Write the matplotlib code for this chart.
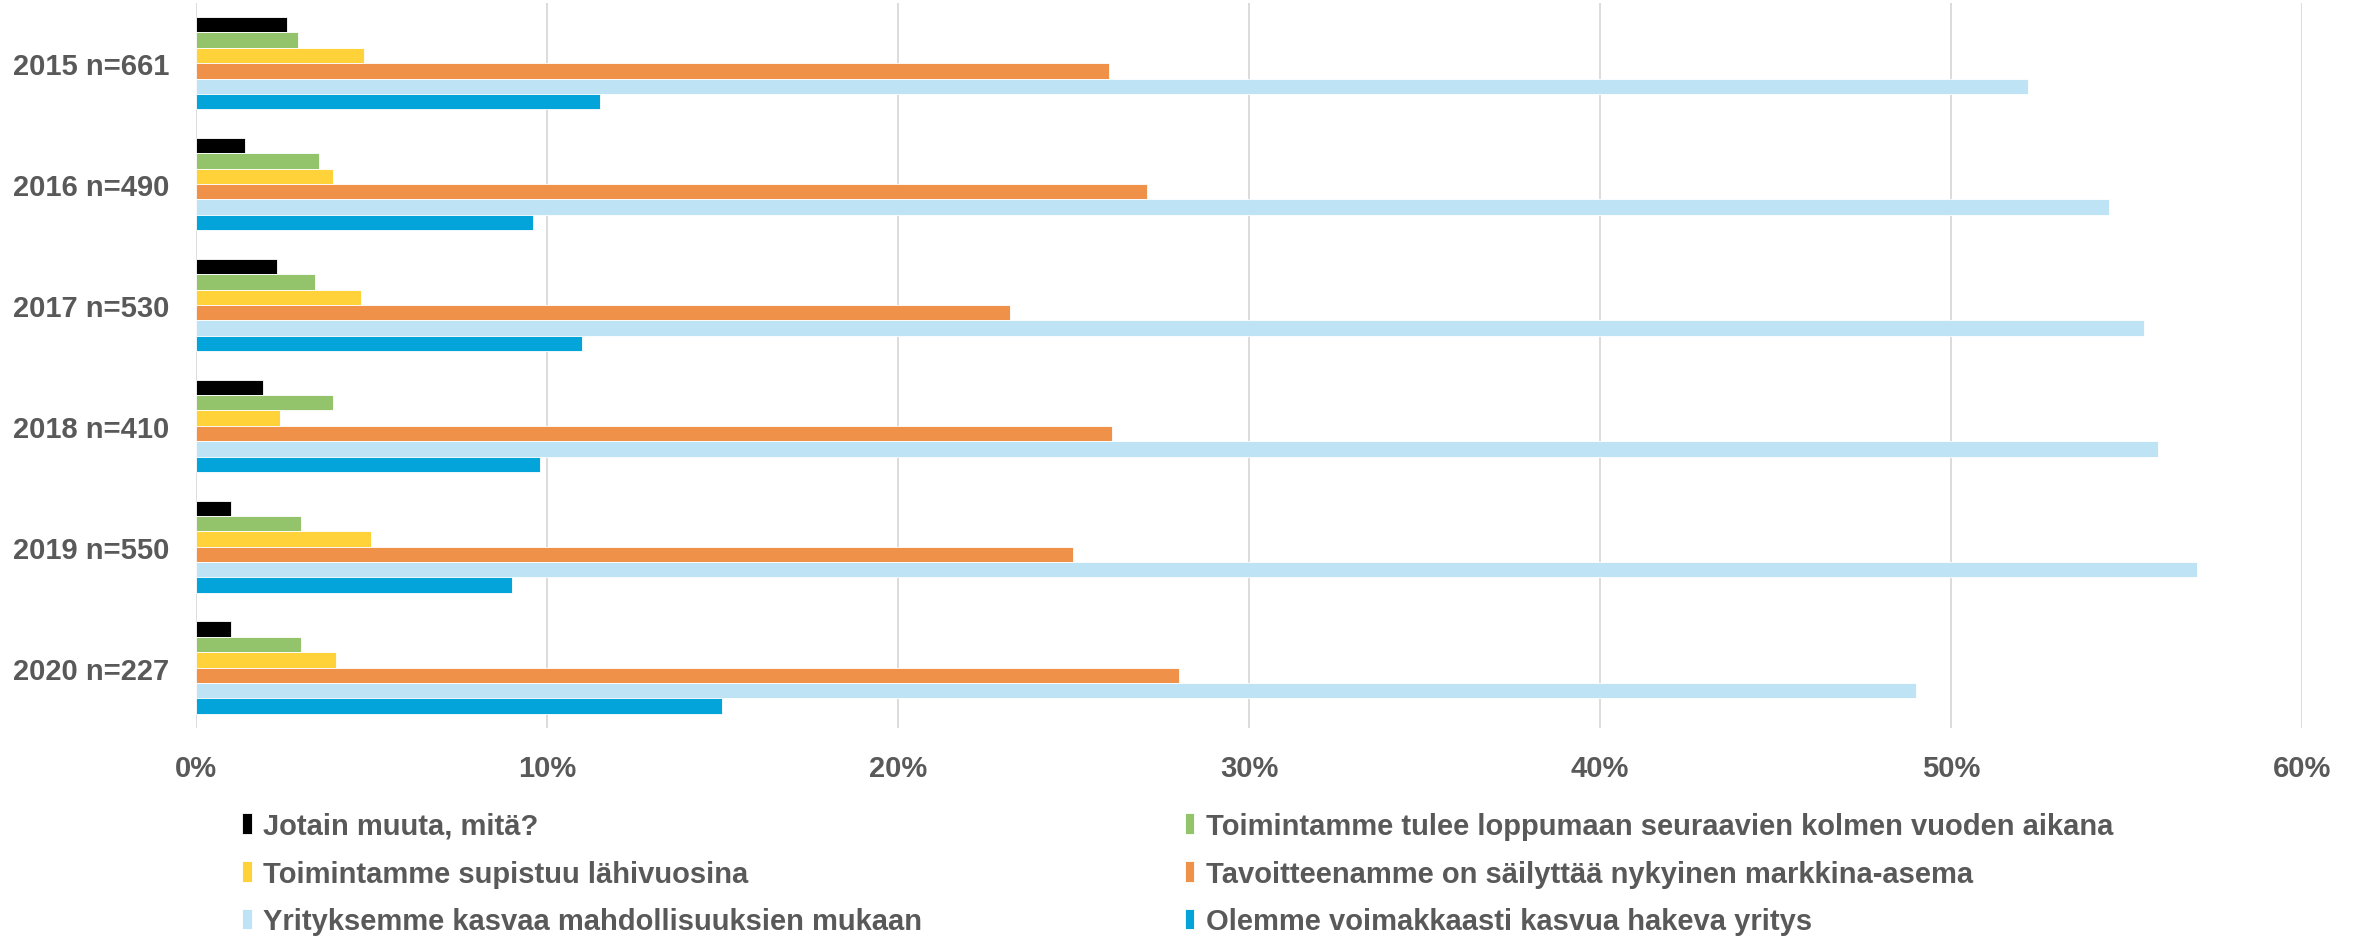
import numpy as np
import matplotlib
matplotlib.use("Agg")
import matplotlib.pyplot as plt

categories = ["2015 n=661", "2016 n=490", "2017 n=530", "2018 n=410", "2019 n=550", "2020 n=227"]

# series, top-to-bottom order within each group (values in %)
jotain = [2.6, 1.4, 2.3, 1.9, 1.0, 1.0]
loppuu = [2.9, 3.5, 3.4, 3.9, 3.0, 3.0]
supistuu = [4.8, 3.9, 4.7, 2.4, 5.0, 4.0]
sailyttaa = [26.0, 27.1, 23.2, 26.1, 25.0, 28.0]
kasvaa = [52.2, 54.5, 55.5, 55.9, 57.0, 49.0]
voimakkaasti = [11.5, 9.6, 11.0, 9.8, 9.0, 15.0]

names = ["Jotain muuta, mitä?",
         "Toimintamme tulee loppumaan seuraavien kolmen vuoden aikana",
         "Toimintamme supistuu lähivuosina",
         "Tavoitteenamme on säilyttää nykyinen markkina-asema",
         "Yrityksemme kasvaa mahdollisuuksien mukaan",
         "Olemme voimakkaasti kasvua hakeva yritys"]
colors = ["#000000", "#93C36A", "#FFD23A", "#F0914A", "#BDE3F5", "#02A4D9"]
series = [jotain, loppuu, supistuu, sailyttaa, kasvaa, voimakkaasti]

GRAY = "#595959"
plt.rcParams["font.family"] = ["Liberation Sans", "DejaVu Sans"]
plt.rcParams["font.weight"] = "bold"

fig = plt.figure(figsize=(23.61, 9.37), dpi=100)
ax = fig.add_axes([0.083, 0.222, 0.892, 0.774])

y = np.arange(len(categories))
h = 0.127
handles = []
for i, (vals, c, n) in enumerate(zip(series, colors, names)):
    off = (i - 2.5) * h
    b = ax.barh(y + off, vals, height=h, color=c, edgecolor="white", linewidth=0.6,
                label=n, zorder=3)
    handles.append(b)

ax.set_ylim(len(categories) - 0.5, -0.5)
ax.set_xlim(0, 60)
ax.set_xticks(np.arange(0, 61, 10))
ax.set_xticklabels([f"{v}%" for v in range(0, 61, 10)])
ax.set_yticks(y)
ax.set_yticklabels(categories)
ax.tick_params(axis="both", length=0, labelsize=21, labelcolor=GRAY)
ax.tick_params(axis="x", pad=19)
ax.tick_params(axis="y", pad=19)
ax.grid(axis="x", color="#D9D9D9", linewidth=1.3, zorder=0)
for s in ax.spines.values():
    s.set_visible(False)

# legend read row-wise: reorder for column filling
order = [0, 2, 4, 1, 3, 5]
leg = fig.legend([handles[k] for k in order], [names[k] for k in order],
                 ncol=2, loc="upper left", bbox_to_anchor=(0.1026, 0.1326),
                 frameon=False, fontsize=21, labelcolor=GRAY,
                 handlelength=0.32, handleheight=0.7, handletextpad=0.4,
                 labelspacing=0.68, columnspacing=9.0, borderpad=0,
                 borderaxespad=0)

fig.savefig("out.png", dpi=100)
